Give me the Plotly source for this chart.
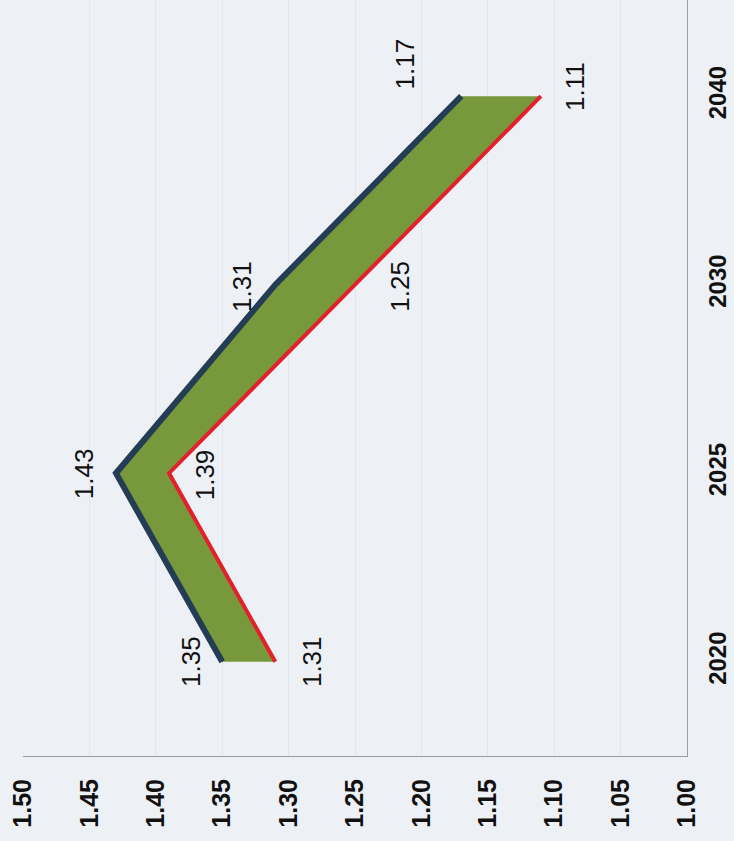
import plotly.graph_objects as go

# Chart data
years = ["2020", "2025", "2030", "2040"]
upper_series = [1.35, 1.43, 1.31, 1.17]
lower_series = [1.31, 1.39, 1.25, 1.11]
value_ticks = [1.50, 1.45, 1.40, 1.35, 1.30, 1.25, 1.20, 1.15, 1.10, 1.05, 1.00]

# Label offsets (pixels) for the value annotations
upper_offsets = [(-31, 0), (-32, 0), (-34, -2), (-56, 32)]
lower_offsets = [(36, 0), (36, -2), (45, -2), (34, 10)]

pos = list(range(len(years)))

NAVY = "#243d55"
RED = "#e3202b"
GREEN = "#78983c"
BG = "#edf0f5"

fig = go.Figure()

fig.add_trace(go.Scatter(
    x=lower_series, y=pos, mode="lines",
    line=dict(color=RED, width=4),
    showlegend=False, hoverinfo="skip",
))
fig.add_trace(go.Scatter(
    x=upper_series, y=pos, mode="lines",
    line=dict(color=NAVY, width=6),
    fill="tonextx", fillcolor=GREEN,
    showlegend=False, hoverinfo="skip",
))

label_font = dict(family="Liberation Sans, Arial, sans-serif", size=26, color="#111111")
for i, v in enumerate(upper_series):
    dx, dy = upper_offsets[i]
    fig.add_annotation(x=v, y=pos[i], text=f"{v:.2f}", showarrow=False,
                       textangle=-90, xshift=dx, yshift=dy, font=label_font)
for i, v in enumerate(lower_series):
    dx, dy = lower_offsets[i]
    fig.add_annotation(x=v, y=pos[i], text=f"{v:.2f}", showarrow=False,
                       textangle=-90, xshift=dx, yshift=dy, font=label_font)

fig.update_layout(
    width=734, height=841,
    margin=dict(l=23, r=47, t=0, b=85),
    paper_bgcolor=BG, plot_bgcolor=BG,
    xaxis=dict(
        range=[1.50, 1.00],
        tickvals=value_ticks,
        ticktext=[f"{t:.2f}" for t in value_ticks],
        tickangle=-90,
        tickfont=dict(family="Liberation Sans, Arial, sans-serif", size=25, color="#111111", weight="bold"),
        showline=True, linecolor="#9a9fa5", linewidth=1,
        showgrid=True, gridcolor="#e2e6ec", gridwidth=1,
        zeroline=False, ticks="", ticklabelstandoff=12, automargin=False,
    ),
    yaxis=dict(
        range=[-0.5, 3.51],
        side="right",
        tickvals=pos, ticktext=years,
        tickangle=-90,
        tickfont=dict(family="Liberation Sans, Arial, sans-serif",
                      size=24, color="#111111", weight="bold"),
        showline=True, linecolor="#9a9fa5", linewidth=1,
        showgrid=False, zeroline=False, ticks="", ticklabelstandoff=9, automargin=False,
    ),
)

fig.write_html("out.html")
